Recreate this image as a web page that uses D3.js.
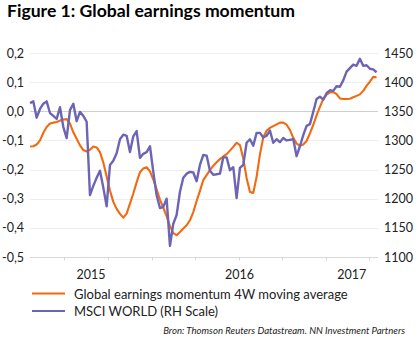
<!DOCTYPE html>
<html>
<head>
<meta charset="utf-8">
<script src="https://cdn.jsdelivr.net/npm/d3@7"></script>
<style>
  html, body { margin: 0; padding: 0; background: #ffffff; }
  svg { display: block; font-family: Lato, "Open Sans", sans-serif; }
</style>
</head>
<body>
<svg id="chart" width="419" height="344"></svg>
<script>
// Weekly observations, first week starting Monday 20 April 2015
const startDate = "2015-04-20";

// Global earnings momentum, 4-week moving average (left scale)
const momentum = [
  -0.121, -0.120, -0.114, -0.100, -0.074, -0.054, -0.042, -0.039, -0.037, -0.032,
  -0.028, -0.027, -0.042, -0.072, -0.094, -0.117, -0.133, -0.138, -0.132, -0.121,
  -0.124, -0.140, -0.176, -0.224, -0.272, -0.311, -0.335, -0.352, -0.365, -0.351,
  -0.317, -0.282, -0.244, -0.209, -0.196, -0.192, -0.206, -0.234, -0.268, -0.303,
  -0.331, -0.360, -0.394, -0.418, -0.425, -0.414, -0.402, -0.391, -0.374, -0.346,
  -0.308, -0.273, -0.236, -0.219, -0.202, -0.187, -0.175, -0.164, -0.155, -0.147,
  -0.135, -0.122, -0.108, -0.116, -0.162, -0.229, -0.277, -0.280, -0.225, -0.148,
  -0.090, -0.067, -0.057, -0.051, -0.045, -0.039, -0.039, -0.046, -0.064, -0.091,
  -0.111, -0.118, -0.114, -0.102, -0.076, -0.047, -0.014, 0.015, 0.042, 0.057,
  0.065, 0.066, 0.059, 0.044, 0.042, 0.042, 0.043, 0.048, 0.053, 0.058,
  0.070, 0.087, 0.102, 0.118, 0.117
];

// MSCI World index level (right scale)
const msciWorld = [
  1364, 1367, 1339, 1354, 1363, 1367, 1347, 1342, 1337, 1357,
  1323, 1304, 1352, 1363, 1333, 1349, 1342, 1332, 1206, 1222,
  1236, 1248, 1219, 1187, 1258, 1265, 1278, 1302, 1310, 1308,
  1280, 1307, 1316, 1270, 1277, 1280, 1290, 1246, 1206, 1184,
  1186, 1200, 1119, 1157, 1172, 1212, 1236, 1243, 1246, 1245,
  1230, 1258, 1275, 1274, 1248, 1241, 1242, 1243, 1271, 1271,
  1249, 1254, 1201, 1253, 1258, 1296, 1302, 1291, 1313, 1313,
  1305, 1308, 1317, 1296, 1302, 1297, 1304, 1300, 1301, 1302,
  1273, 1290, 1309, 1325, 1328, 1349, 1371, 1375, 1370, 1381,
  1386, 1385, 1393, 1392, 1403, 1418, 1424, 1430, 1428, 1440,
  1428, 1429, 1423, 1422, 1417
];

const leftTicks = [0.2, 0.1, 0.0, -0.1, -0.2, -0.3, -0.4, -0.5];
const rightTicks = [1450, 1400, 1350, 1300, 1250, 1200, 1150, 1100];
const yearLabels = ["2015", "2016", "2017"];
const yearLabelDates = ["2015-08-26", "2016-07-03", "2017-02-24"];
const seriesNames = ["Global earnings momentum 4W moving average", "MSCI WORLD (RH Scale)"];
const seriesColors = ["#f26a10", "#6c64b5"];

const parse = d3.timeParse("%Y-%m-%d");
const t0 = parse(startDate);
const dates = momentum.map((_, i) => d3.timeDay.offset(t0, 7 * i));

const svg = d3.select("#chart");
const plot = { left: 30, right: 378, top: 53, bottom: 257 };

const x = d3.scaleTime()
  .domain([t0, d3.timeDay.offset(t0, 731)])
  .range([plot.left, plot.right]);
const yL = d3.scaleLinear().domain([-0.5, 0.2]).range([plot.bottom, plot.top]);
const yR = d3.scaleLinear().domain([1100, 1450]).range([plot.bottom, plot.top]);

const nl = d3.formatLocale({ decimal: ",", thousands: ".", grouping: [3], currency: ["€", ""], minus: "-" });
const fmtL = nl.format(".1f");

// Title
svg.append("text")
  .attr("x", 7).attr("y", 16.5)
  .attr("font-size", 17.6).attr("font-weight", "bold").attr("fill", "#000")
  .text("Figure 1: Global earnings momentum");

// Horizontal gridlines
svg.append("g").selectAll("line")
  .data(leftTicks)
  .join("line")
  .attr("x1", plot.left).attr("x2", plot.right)
  .attr("y1", d => Math.round(yL(d)) + 0.5).attr("y2", d => Math.round(yL(d)) + 0.5)
  .attr("stroke", d => d === 0 ? "#cfcfcf" : (d === -0.5 ? "#d9d9d9" : "#eeeeee"))
  .attr("stroke-width", 1);

// Quarterly tick marks along the bottom
svg.append("g").selectAll("line")
  .data(x.ticks(d3.timeMonth.every(3)))
  .join("line")
  .attr("x1", d => Math.round(x(d)) + 0.5).attr("x2", d => Math.round(x(d)) + 0.5)
  .attr("y1", plot.bottom + 0.5).attr("y2", plot.bottom + 3.5)
  .attr("stroke", "#d9d9d9");

// Left axis labels
svg.append("g").selectAll("text")
  .data(leftTicks)
  .join("text")
  .attr("x", 24).attr("y", d => yL(d) + 4.5)
  .attr("text-anchor", "end").attr("font-size", 12.5).attr("fill", "#222")
  .text(d => fmtL(d));

// Right axis labels
svg.append("g").selectAll("text")
  .data(rightTicks)
  .join("text")
  .attr("x", 384).attr("y", d => yR(d) + 4.5)
  .attr("text-anchor", "start").attr("font-size", 12.5).attr("fill", "#222")
  .text(d => d);

// Year labels
svg.append("g").selectAll("text")
  .data(yearLabels)
  .join("text")
  .attr("x", (d, i) => x(parse(yearLabelDates[i])))
  .attr("y", 279)
  .attr("text-anchor", "middle").attr("font-size", 12.5).attr("fill", "#222")
  .text(d => d);

// Series lines
const lineL = d3.line().x((d, i) => x(dates[i])).y(d => yL(d)).curve(d3.curveLinear);
const lineR = d3.line().x((d, i) => x(dates[i])).y(d => yR(d)).curve(d3.curveLinear);

svg.append("path")
  .datum(momentum)
  .attr("d", lineL)
  .attr("fill", "none").attr("stroke", seriesColors[0])
  .attr("stroke-width", 2.1).attr("stroke-linejoin", "round");

svg.append("path")
  .datum(msciWorld)
  .attr("d", lineR)
  .attr("fill", "none").attr("stroke", seriesColors[1])
  .attr("stroke-width", 2.4).attr("stroke-linejoin", "round");

// Legend
const legend = svg.append("g").selectAll("g")
  .data(seriesNames)
  .join("g")
  .attr("transform", (d, i) => `translate(0, ${293.5 + i * 17.5})`);
legend.append("line")
  .attr("x1", 32).attr("x2", 65).attr("y1", 0).attr("y2", 0)
  .attr("stroke", (d, i) => seriesColors[i]).attr("stroke-width", 2.2);
legend.append("text")
  .attr("x", 74).attr("y", 5)
  .attr("font-size", 13).attr("fill", "#222")
  .text(d => d);

// Source note
svg.append("text")
  .attr("x", 405).attr("y", 334)
  .attr("text-anchor", "end").attr("font-size", 9.6).attr("font-style", "italic").attr("fill", "#222")
  .text("Bron: Thomson Reuters Datastream. NN Investment Partners");
</script>
</body>
</html>
